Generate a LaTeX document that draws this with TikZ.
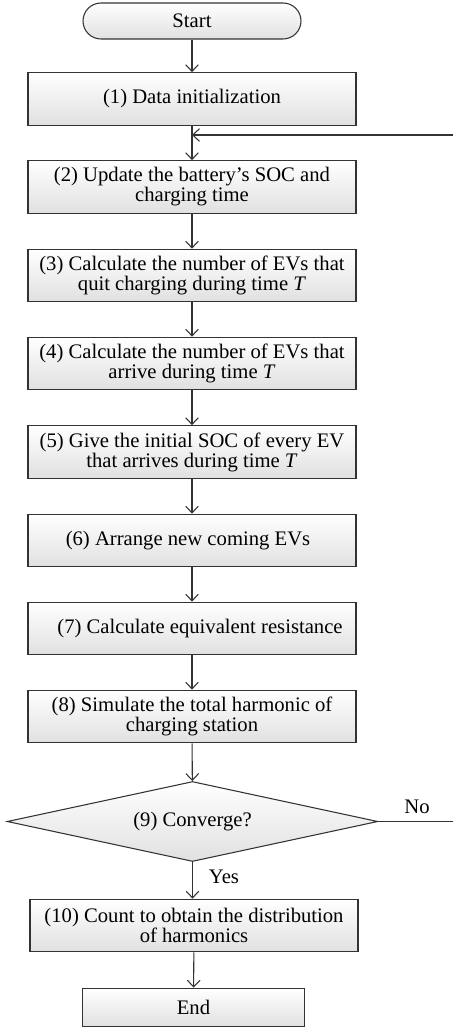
\documentclass[tikz,border=0pt]{standalone}
\usepackage{fontspec}
\setmainfont{Liberation Serif}
\usetikzlibrary{shapes.geometric,arrows.meta}

\tikzset{
    flowline/.style={draw=black!80, line width=0.8pt},
    flowarrow/.style={flowline, -{Straight Barb[length=5pt,width=9.5pt]}},
    procbox/.style={draw=black!80, line width=0.8pt, top color=white, bottom color=black!12,
        minimum width=246pt, minimum height=39.5pt, inner sep=0pt, align=center,
        font=\fontsize{15.5}{15}\selectfont},
    termbox/.style={procbox, minimum height=29pt},
    decbox/.style={procbox, shape=diamond, aspect=4.6, minimum width=278pt, minimum height=60pt},
    flowlabel/.style={inner sep=0.75pt, font=\fontsize{15.5}{15}\selectfont}
}

\begin{document}
\begin{tikzpicture}[x=0.75pt,y=0.75pt,yscale=-1,xscale=1]
    \useasboundingbox (0,0) rectangle (453,1030);

    %Shape: Terminal [id:start]
    \node [termbox, minimum width=163.5pt, minimum height=27pt, rounded corners=13.5pt] (start) at (192,21) {Start};
    %Shape: Rectangle [id:init]
    \node [procbox] (init) at (192,99) {(1) Data initialization};
    %Shape: Rectangle [id:soc]
    \node [procbox] (soc) at (192,187) {(2) Update the battery’s SOC and\\charging time};
    %Shape: Rectangle [id:quit]
    \node [procbox] (quit) at (192,275.5) {(3) Calculate the number of EVs that\\quit charging during time \textit{T}};
    %Shape: Rectangle [id:arrive]
    \node [procbox] (arrive) at (192,363.5) {(4) Calculate the number of EVs that\\arrive during time \textit{T}};
    %Shape: Rectangle [id:initsoc]
    \node [procbox] (initsoc) at (192,452) {(5) Give the initial SOC of every EV\\that arrives during time \textit{T}};
    %Shape: Rectangle [id:arrange]
    \node [procbox] (arrange) at (192,540.5) {(6) Arrange new coming EVs\hspace*{6pt}};
    %Shape: Rectangle [id:resist]
    \node [procbox] (resist) at (192,628.5) {\hspace*{12pt}(7) Calculate equivalent resistance};
    %Shape: Rectangle [id:simul]
    \node [procbox] (simul) at (192,716.5) {(8) Simulate the total harmonic of\\charging station};
    %Shape: Diamond [id:conv]
    \node [decbox] (conv) at (192.5,821.5) {(9) Converge?};
    %Shape: Rectangle [id:count]
    \node [procbox] (count) at (194,925.5) {(10) Count to obtain the distribution\\of harmonics};
    %Shape: Rectangle [id:end]
    \node [termbox, minimum width=167pt] (end) at (193.5,1007.5) {End};

    % loop ends
    \coordinate (join) at (192,135);
    \coordinate (loopin) at (453,135);
    \coordinate (loopout) at (453,821.5);

    %Straight Lines
    \draw [flowarrow] (start) -- (init);
    \draw [flowarrow] (init) -- (soc);
    \draw [flowarrow] (loopin) -- (join);
    \draw [flowarrow] (soc) -- (quit);
    \draw [flowarrow] (quit) -- (arrive);
    \draw [flowarrow] (arrive) -- (initsoc);
    \draw [flowarrow] (initsoc) -- (arrange);
    \draw [flowarrow] (arrange) -- (resist);
    \draw [flowarrow] (resist) -- (simul);
    \draw [flowarrow] (simul) -- (conv);
    \draw [flowarrow] (conv.south) -- (conv.south |- count.north);
    \draw [flowline] (conv.east) -- (loopout);
    \draw [flowarrow] (count) -- (end);

    % Text Node
    \node [flowlabel] (nolabel) at (417,807) {No};
    % Text Node
    \node [flowlabel] (yeslabel) at (224,877) {Yes};
\end{tikzpicture}
\end{document}
